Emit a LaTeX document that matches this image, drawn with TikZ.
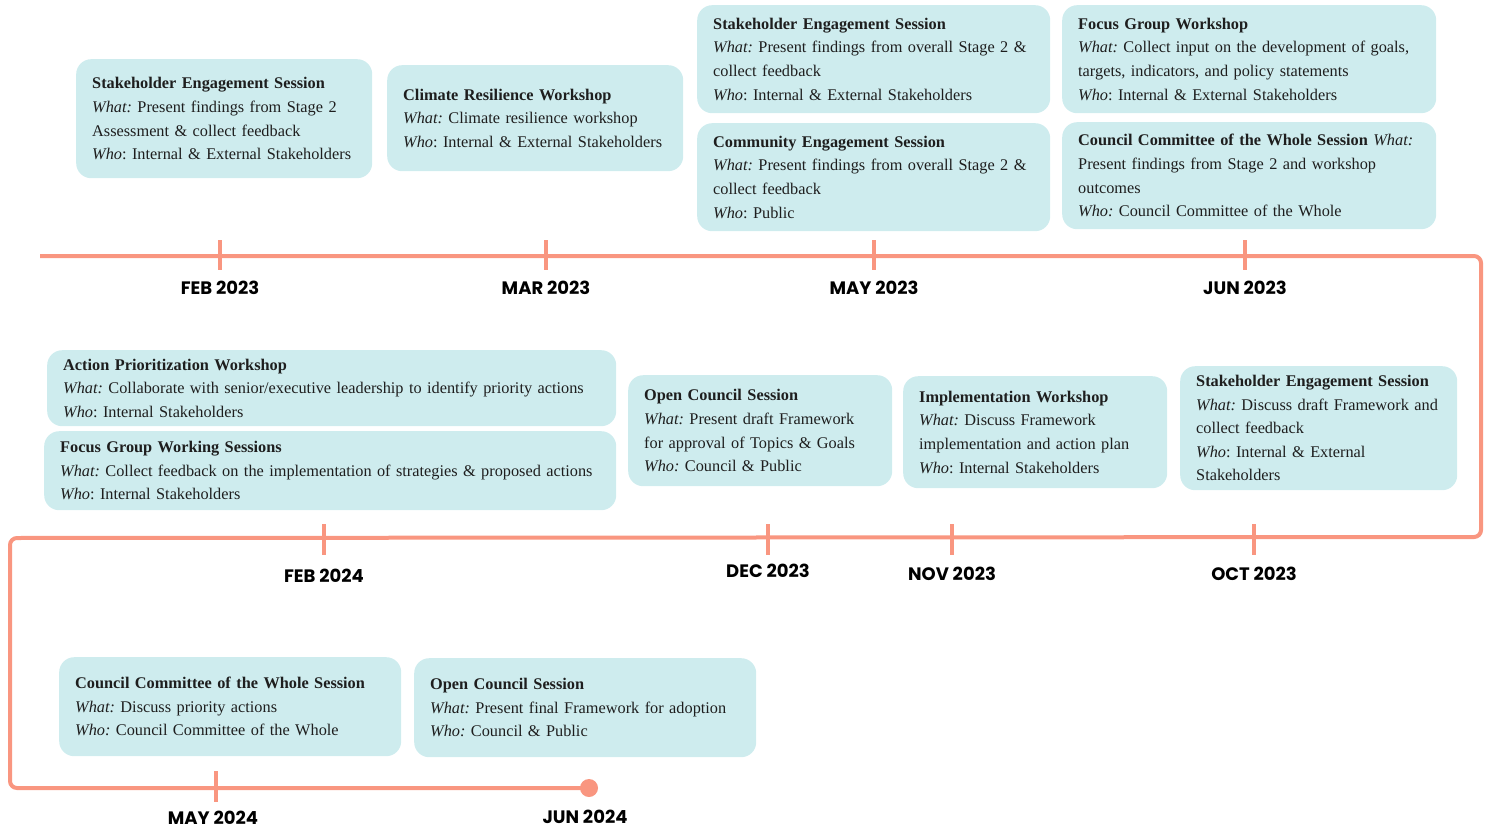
\documentclass[tikz,border=0pt]{standalone}
\usepackage{fontspec}
\setmainfont{Liberation Serif}
\newfontfamily\datefont{Poppins}
\usepackage{tikz}
\usetikzlibrary{calc, positioning}
\usepackage{xcolor}
\definecolor{planteal}{RGB}{206,236,238}
\definecolor{plansalmon}{RGB}{249,150,128}
\definecolor{plantext}{RGB}{30,30,30}
\tikzset{
    eventbox/.style={fill=planteal, rounded corners=15pt, anchor=north west, inner xsep=16pt, inner ysep=6pt, align=left, text=plantext, font=\fontsize{16.3}{23.6}\selectfont\frenchspacing},
    timeline/.style={draw=plansalmon, line width=4pt, rounded corners=7pt},
    tickmark/.style={draw=plansalmon, line width=4pt},
    datelabel/.style={font=\datefont\bfseries\fontsize{18}{20}\selectfont, text=black, inner sep=1pt}
}

\begin{document}
\begin{tikzpicture}[x=1pt,y=-1pt]
            \useasboundingbox (0,0) rectangle (1486,830);
            % Timeline path (snakes back and forth)
            \coordinate (tstart) at (40,256);
            \coordinate (tne)    at (1481,256);
            \coordinate (tse)    at (1481,537);
            \coordinate (tsw)    at (10,538);
            \coordinate (tbl)    at (10,788);
            \node[circle, fill=plansalmon, minimum size=18pt, inner sep=0pt] (tend) at (589,788) {};
            \draw[timeline] (tstart) -- (tne) -- (tse) -- (tsw) -- (tbl) -- (tend.center);

            % Top row ticks and dates
            \foreach \x/\d in {220/FEB 2023, 546/MAR 2023, 874/MAY 2023, 1245/JUN 2023} {
                \draw[tickmark] (\x,240) -- (\x,270);
                \node[datelabel] (d\x) at (\x,288) {\d};
            }
            % Middle row ticks and dates
            \foreach \x/\y/\d in {324/576/FEB 2024, 768/571/DEC 2023, 952/574/NOV 2023, 1254/574/OCT 2023} {
                \draw[tickmark] (\x,524) -- (\x,555);
                \node[datelabel] (m\x) at (\x,\y) {\d};
            }
            % Bottom row
            \draw[tickmark] (216,771) -- (216,802);
            \node[datelabel] (b216) at (213,818) {MAY 2024};
            \node[datelabel] (b585) at (585,817) {JUN 2024};

            % Events 2023
            \node[eventbox, minimum width=296pt, minimum height=119pt, text width=264pt] (seFeb) at (76,59)
                {\textbf{Stakeholder Engagement Session}\\ \textit{What:} Present findings from Stage 2\\ Assessment \& collect feedback\\ \textit{Who}: Internal \& External Stakeholders};
            \node[eventbox, minimum width=296pt, minimum height=106pt, text width=264pt] (climate) at (387,65)
                {\textbf{Climate Resilience Workshop}\\ \textit{What:} Climate resilience workshop\\ \textit{Who}: Internal \& External Stakeholders};
            \node[eventbox, minimum width=353pt, minimum height=108pt, text width=321pt] (seMay) at (697,5)
                {\textbf{Stakeholder Engagement Session}\\ \textit{What:} Present findings from overall Stage 2 \&\\ collect feedback\\ \textit{Who}: Internal \& External Stakeholders};
            \node[eventbox, minimum width=353pt, minimum height=108pt, text width=321pt] (community) at (697,123)
                {\textbf{Community Engagement Session}\\ \textit{What:} Present findings from overall Stage 2 \&\\ collect feedback\\ \textit{Who}: Public};
            \node[eventbox, minimum width=374pt, minimum height=108pt, text width=342pt] (focusJun) at (1062,5)
                {\textbf{Focus Group Workshop}\\ \textit{What:} Collect input on the development of goals,\\ targets, indicators, and policy statements\\ \textit{Who}: Internal \& External Stakeholders};
            \node[eventbox, minimum width=374pt, minimum height=107pt, text width=342pt] (cowJun) at (1062,122)
                {\textbf{Council Committee of the Whole Session} \textit{What:}\\ Present findings from Stage 2 and workshop\\ outcomes\\ \textit{Who:} Council Committee of the Whole};
            \node[eventbox, minimum width=277pt, minimum height=124pt, text width=245pt] (seOct) at (1180,366)
                {\textbf{Stakeholder Engagement Session}\\ \textit{What:} Discuss draft Framework and\\ collect feedback\\ \textit{Who}: Internal \& External\\ Stakeholders};
            \node[eventbox, minimum width=264pt, minimum height=112pt, text width=232pt] (implement) at (903,376)
                {\textbf{Implementation Workshop}\\ \textit{What:} Discuss Framework\\ implementation and action plan\\ \textit{Who}: Internal Stakeholders};
            \node[eventbox, minimum width=264pt, minimum height=111pt, text width=232pt] (openDec) at (628,375)
                {\textbf{Open Council Session}\\ \textit{What:} Present draft Framework\\ for approval of Topics \& Goals\\ \textit{Who:} Council \& Public};

            % Events 2024
            \node[eventbox, minimum width=569pt, minimum height=76pt, text width=537pt] (actionFeb) at (47,350)
                {\textbf{Action Prioritization Workshop}\\ \textit{What:} Collaborate with senior/executive leadership to identify priority actions\\ \textit{Who}: Internal Stakeholders};
            \node[eventbox, minimum width=572pt, minimum height=79pt, text width=540pt] (focusFeb) at (44,431)
                {\textbf{Focus Group Working Sessions}\\ \textit{What:} Collect feedback on the implementation of strategies \& proposed actions\\ \textit{Who}: Internal Stakeholders};
            \node[eventbox, minimum width=342pt, minimum height=99pt, text width=310pt] (cowMay) at (59,657)
                {\textbf{Council Committee of the Whole Session}\\ \textit{What:} Discuss priority actions\\ \textit{Who:} Council Committee of the Whole};
            \node[eventbox, minimum width=342pt, minimum height=99pt, text width=310pt] (openJun) at (414,658)
                {\textbf{Open Council Session}\\ \textit{What:} Present final Framework for adoption\\ \textit{Who:} Council \& Public};
        \end{tikzpicture}
\end{document}
